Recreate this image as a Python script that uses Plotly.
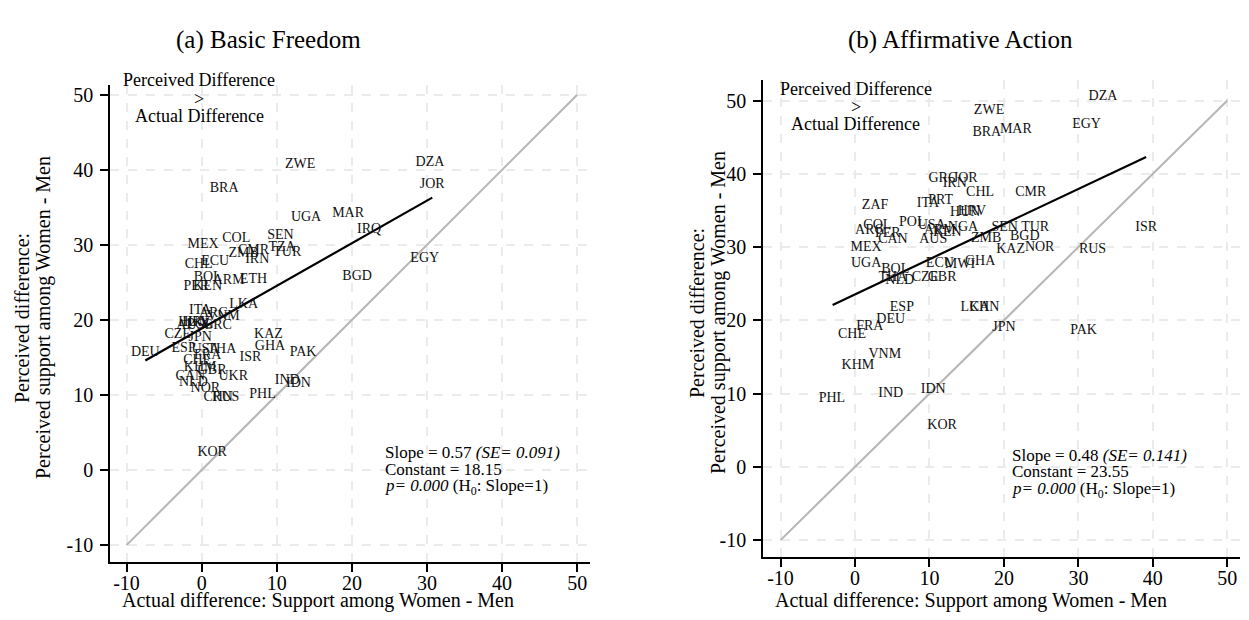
import plotly.graph_objects as go

# ---------------- data ----------------
# (a) Basic Freedom
bf_codes = ["BRA","ZWE","DZA","JOR","UGA","MAR","IRQ","SEN","COL","MEX","EGY","BGD","ECU","CHL",
            "ZMB","CMR","TZA","TUR","IRN","BOL","ARM","ETH","PER","KEN","ITA","VNM","ARG","LKA",
            "HUN","HRV","POL","GRC","AUS","CZE","JPN","ESP","USA","THA","DEU","FRA","CHE","KHM",
            "GBR","CAN","NLD","UKR","NOR","CHN","RUS","KAZ","GHA","ISR","PAK","IND","IDN","PHL","KOR"]
bf_x = [3.0,13.1,30.4,30.7,13.9,19.5,22.3,10.5,4.6,0.2,29.7,20.7,1.8,-0.4,
        5.6,6.9,10.7,11.4,7.4,0.8,3.6,6.9,-0.7,0.8,-0.2,2.9,1.6,5.6,
        -1.1,-0.7,-0.2,2.1,-1.5,-3.2,-0.2,-2.4,0.5,2.7,-7.5,0.8,-0.6,-0.2,
        1.4,-1.5,-1.1,4.2,0.5,2.2,3.2,8.9,9.1,6.5,13.5,11.4,12.9,8.1,1.4]
bf_y = [37.5,40.7,41.0,38.1,33.7,34.2,32.1,31.3,30.8,30.1,28.2,25.8,27.8,27.4,
        28.8,29.3,29.7,29.0,28.1,25.7,25.3,25.4,24.4,24.5,21.3,20.4,20.8,22.0,
        19.7,19.7,19.4,19.2,19.2,18.0,17.6,16.2,16.0,16.0,15.7,15.3,14.6,13.7,
        13.2,12.4,11.7,12.4,10.9,9.7,9.7,18.0,16.5,15.0,15.6,11.9,11.5,10.0,2.3]
# fitted line end points as drawn in the figure
bf_fit_x = [-7.5, 30.7]
bf_fit_y = [14.6, 36.3]

# (b) Affirmative Action
aa_codes = ["DZA","ZWE","EGY","BRA","MAR","GRC","JOR","IRN","CHL","CMR","ZAF","ITA","PRT","HRV",
            "HUN","ISR","COL","POL","USA","NGA","ARG","PER","CAN","ARM","KEN","AUS","SEN","TUR",
            "ZMB","BGD","MEX","KAZ","NOR","RUS","UGA","ECU","MWI","GHA","BOL","THA","NLD","CZE",
            "GBR","ESP","LKA","CHN","DEU","FRA","CHE","JPN","PAK","VNM","KHM","IND","IDN","PHL","KOR"]
aa_x = [33.3,18.0,31.1,17.7,21.6,11.8,14.8,13.4,16.8,23.6,2.7,9.8,11.5,15.7,
        14.8,39.1,3.0,7.7,10.3,14.5,2.0,4.4,5.1,11.4,12.4,10.5,20.1,24.2,
        17.6,22.8,1.5,20.9,24.8,31.9,1.5,11.4,14.1,16.8,5.4,5.1,6.0,9.4,
        11.7,6.3,16.1,17.4,4.8,2.0,-0.4,20.0,30.7,4.0,0.4,4.8,10.5,-3.1,11.7]
aa_y = [50.5,48.7,46.7,45.6,46.0,39.4,39.4,38.7,37.4,37.4,35.7,36.0,36.4,34.9,
        34.7,32.7,33.0,33.3,33.0,32.7,32.2,31.9,31.0,32.3,32.0,31.1,32.7,32.7,
        31.2,31.4,29.9,29.6,29.9,29.6,27.8,27.8,27.6,28.0,26.9,25.9,25.5,25.8,
        25.9,21.8,21.7,21.8,20.1,19.1,18.1,19.0,18.6,15.4,13.9,10.0,10.5,9.4,5.6]
aa_fit_x = [-3.0, 39.1]
aa_fit_y = [22.1, 42.3]

ticks = [-10, 0, 10, 20, 30, 40, 50]
tick_labels = ["-10", "0", "10", "20", "30", "40", "50"]

FONT = "Liberation Serif"
W, H = 1249, 620

fig = go.Figure()

def add_panel(codes, xs, ys, fx, fy, xa, ya):
    fig.add_trace(go.Scatter(x=[ticks[0], ticks[-1]], y=[ticks[0], ticks[-1]], mode="lines",
                             line=dict(color="#b5b5b5", width=2), xaxis=xa, yaxis=ya,
                             hoverinfo="skip"))
    fig.add_trace(go.Scatter(x=fx, y=fy, mode="lines", line=dict(color="black", width=2.2),
                             xaxis=xa, yaxis=ya, hoverinfo="skip"))
    fig.add_trace(go.Scatter(x=xs, y=ys, text=codes, mode="text", textposition="middle center",
                             textfont=dict(family=FONT, size=14, color="#111111"),
                             xaxis=xa, yaxis=ya))

add_panel(bf_codes, bf_x, bf_y, bf_fit_x, bf_fit_y, "x", "y")
add_panel(aa_codes, aa_x, aa_y, aa_fit_x, aa_fit_y, "x2", "y2")

def px_x(p):
    return p / W

def px_y(p):
    return (H - p) / H

axis_common = dict(
    tickvals=ticks, ticktext=tick_labels, ticks="outside", ticklen=8, tickwidth=1.5, tickcolor="black",
    showline=True, linecolor="black", linewidth=1.5, automargin=False,
    showgrid=True, gridcolor="#ebebeb", gridwidth=1.5, griddash="dash",
    zeroline=False, tickfont=dict(family=FONT, size=20, color="black"),
)
xaxis_extra = dict(ticklabelstandoff=-6)
yaxis_extra = dict(ticklabelstandoff=3)

fig.update_layout(
    width=W, height=H, margin=dict(l=0, r=0, t=0, b=0),
    paper_bgcolor="white", plot_bgcolor="white", showlegend=False,
    font=dict(family=FONT, color="black"),
    xaxis=dict(domain=[px_x(110), px_x(590)], range=[-12.2, 51.7], anchor="y", **axis_common, **xaxis_extra),
    yaxis=dict(domain=[px_y(562), px_y(85)], range=[-12.25, 51.3], anchor="x", **axis_common, **yaxis_extra),
    xaxis2=dict(domain=[px_x(763), px_x(1240)], range=[-12.35, 51.7], anchor="y2", **axis_common, **xaxis_extra),
    yaxis2=dict(domain=[px_y(557), px_y(80)], range=[-12.3, 52.8], anchor="x2", **axis_common, **yaxis_extra),
)

ann = []
def note(text, x, y, size, xanchor="center", angle=0):
    ann.append(dict(text=text, x=px_x(x), y=px_y(y), xref="paper", yref="paper",
                    showarrow=False, font=dict(family=FONT, size=size), textangle=angle,
                    xanchor=xanchor, yanchor="middle"))

note("(a) Basic Freedom", 268, 40, 25)
note("(b) Affirmative Action", 960, 40, 25)

xtitle = "Actual difference: Support among Women - Men"
note(xtitle, 318, 600, 20)
note(xtitle, 971, 600, 20)
note("Perceived difference:", 22, 318, 20, angle=-90)
note("Perceived support among Women - Men", 43, 318, 20, angle=-90)
note("Perceived difference:", 697, 313, 20, angle=-90)
note("Perceived support among Women - Men", 718, 313, 20, angle=-90)

note("Perceived Difference", 199, 80, 18)
note(">", 199, 99, 18)
note("Actual Difference", 199, 116, 18)
note("Perceived Difference", 856, 89, 18)
note(">", 856, 107, 18)
note("Actual Difference", 856, 124, 18)

note("Slope = 0.57 <i>(SE= 0.091)</i>", 383, 452, 17, "left")
note("Constant = 18.15", 383, 469, 17, "left")
note("<i>p= 0.000</i> (H<sub>0</sub>: Slope=1)", 383, 487, 17, "left")
note("Slope = 0.48 <i>(SE= 0.141)</i>", 1010, 455, 17, "left")
note("Constant = 23.55", 1010, 472, 17, "left")
note("<i>p= 0.000</i> (H<sub>0</sub>: Slope=1)", 1010, 490, 17, "left")

fig.update_layout(annotations=ann)
fig.write_html("out.html", config={"displayModeBar": False},
               post_script="document.body.style.margin='0';")
